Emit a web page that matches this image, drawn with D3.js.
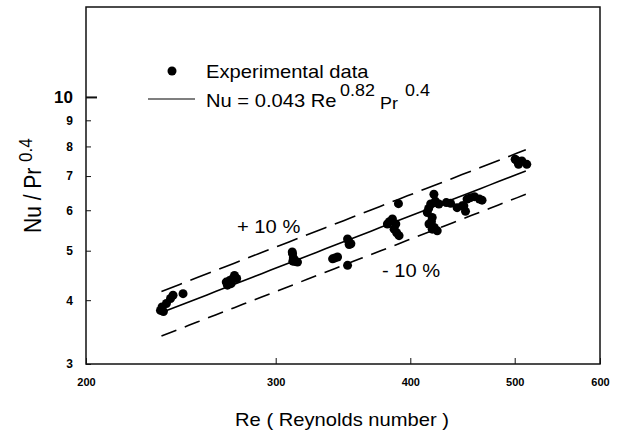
<!DOCTYPE html>
<html>
<head>
<meta charset="utf-8">
<script src="https://cdn.jsdelivr.net/npm/d3@7"></script>
<style>
  body { margin: 0; background: #fff; }
  text { font-family: "Liberation Sans", Arial, sans-serif; fill: #000; }
</style>
</head>
<body>
<svg id="chart" width="636" height="434"></svg>
<script>
// axis ticks
const reTicks = [200, 300, 400, 500, 600];
const nuTicks = [3, 4, 5, 6, 7, 8, 9, 10];

// experimental points
const reData = [
  234.5, 235.3, 236.0, 237.5, 239.6, 240.9, 246.1,
  269.9, 270.6, 271.8, 272.7, 274.7, 276.0, 273.5,
  310.8, 311.0, 311.5, 312.1, 313.0, 314.3, 311.2,
  338.8, 340.6, 342.4, 349.8,
  349.8, 350.8, 352.3, 351.0,
  390.0,
  380.9, 382.5, 385.0, 387.8, 386.4, 388.5, 390.5,
  420.7, 417.8, 414.8, 416.0, 419.2, 416.3, 418.5, 419.2, 421.0, 423.7, 425.2, 422.0,
  432.0, 436.0, 442.1, 446.9, 448.5, 450.1, 451.6, 454.9, 458.8, 463.7, 466.3,
  500.5, 502.5, 504.1, 507.7, 513.1
];
const nuData = [
  3.82, 3.88, 3.80, 3.94, 4.03, 4.09, 4.12,
  4.34, 4.28, 4.37, 4.31, 4.47, 4.41, 4.40,
  4.97, 4.93, 4.84, 4.80, 4.76, 4.75, 4.77,
  4.82, 4.84, 4.86, 4.68,
  5.27, 5.21, 5.16, 5.14,
  6.18,
  5.64, 5.70, 5.77, 5.64, 5.51, 5.42, 5.35,
  6.45, 6.17, 5.94, 6.05, 5.81, 5.64, 5.70, 5.51, 5.55, 5.47, 6.17, 6.25,
  6.21, 6.19, 6.07, 6.12, 6.12, 5.97, 6.31, 6.35, 6.38, 6.31, 6.28,
  7.55, 7.50, 7.38, 7.49, 7.38
];

// correlation Nu/Pr^0.4 = 0.043 Re^0.82, with +/-10 % bands
const coef = 0.043, expo = 0.82;
const fitRange = [235, 512];
const bands = [
  { factor: 1.0, dash: null },
  { factor: 1.1, dash: "22,9" },
  { factor: 0.9, dash: "16,9" }
];

const svg = d3.select("#chart");
const stretch = 1.12;   // the scanned figure is a bit wide

const x = d3.scaleLog().domain([200, 600]).range([86, 600]);
const y = d3.scaleLog().domain([3, 15]).range([364, 7]);

function label(g, px, py, str, size, anchor) {
  return g.append("text")
    .attr("transform", "translate(" + px + "," + py + ") scale(" + stretch + ",1)")
    .attr("text-anchor", anchor || "start")
    .style("font-size", size + "px")
    .text(str);
}

// frame
svg.append("rect")
  .attr("x", 86).attr("y", 7)
  .attr("width", 600 - 86).attr("height", 364 - 7)
  .attr("fill", "none")
  .attr("stroke", "#111")
  .attr("stroke-width", 1.5);

// y axis, ticks pointing in
const yAxis = svg.append("g")
  .attr("transform", "translate(86,0)")
  .call(d3.axisLeft(y).tickValues(nuTicks).tickSize(-5).tickPadding(13).tickFormat(d3.format("d")));
yAxis.select(".domain").remove();
yAxis.selectAll(".tick line").attr("stroke", "#111").attr("stroke-width", 1);
yAxis.selectAll(".tick text")
  .style("font-size", "12px").style("font-weight", "bold");
yAxis.selectAll(".tick").filter(d => d === 10).each(function() {
  d3.select(this).select("line").attr("x2", 11).attr("stroke-width", 2);
  d3.select(this).select("text").style("font-size", "17px").attr("x", -13);
});

// x axis
const xAxis = svg.append("g")
  .attr("transform", "translate(0,364)")
  .call(d3.axisBottom(x).tickValues(reTicks).tickSize(-6).tickPadding(14).tickFormat(d3.format("d")));
xAxis.select(".domain").remove();
xAxis.selectAll(".tick line").attr("stroke", "#111");
xAxis.selectAll(".tick text")
  .style("font-size", "11px").style("font-weight", "bold");

// fit and band lines
const fitRe = d3.range(0, 41).map(i => fitRange[0] * Math.pow(fitRange[1] / fitRange[0], i / 40));
const line = d3.line().x(d => x(d[0])).y(d => y(d[1]));
bands.forEach(b => {
  svg.append("path")
    .datum(fitRe.map(r => [r, b.factor * coef * Math.pow(r, expo)]))
    .attr("d", line)
    .attr("fill", "none")
    .attr("stroke", "#000")
    .attr("stroke-width", 1.6)
    .attr("stroke-dasharray", b.dash);
});

// data points
svg.append("g").selectAll("circle")
  .data(reData.map((r, i) => [r, nuData[i]]))
  .enter().append("circle")
    .attr("cx", d => x(d[0]))
    .attr("cy", d => y(d[1]))
    .attr("r", 4.5)
    .attr("fill", "#000");

// legend
const legend = svg.append("g");
legend.append("circle").attr("cx", 172).attr("cy", 71).attr("r", 4.5).attr("fill", "#000");
label(legend, 206, 78, "Experimental data", 18);
legend.append("line")
  .attr("x1", 148).attr("x2", 195).attr("y1", 99).attr("y2", 99)
  .attr("stroke", "#000").attr("stroke-width", 1.2);
label(legend, 206, 106.5, "Nu = 0.043 Re", 18);
label(legend, 340, 96, "0.82", 16);
label(legend, 380, 108.5, "Pr", 16);
label(legend, 405, 96, "0.4", 16);

// band annotations
label(svg, 237, 233, "+ 10 %", 18);
label(svg, 382, 277, "- 10 %", 18);

// axis titles
label(svg, 342, 426, "Re ( Reynolds number )", 18, "middle");
const yTitle = svg.append("g")
  .attr("transform", "translate(41,233) scale(" + stretch + ",1) rotate(-90)");
yTitle.append("text").style("font-size", "21px").text("Nu / Pr");
yTitle.append("text").attr("x", 71).attr("y", -8).style("font-size", "17px").text("0.4");
</script>
</body>
</html>
